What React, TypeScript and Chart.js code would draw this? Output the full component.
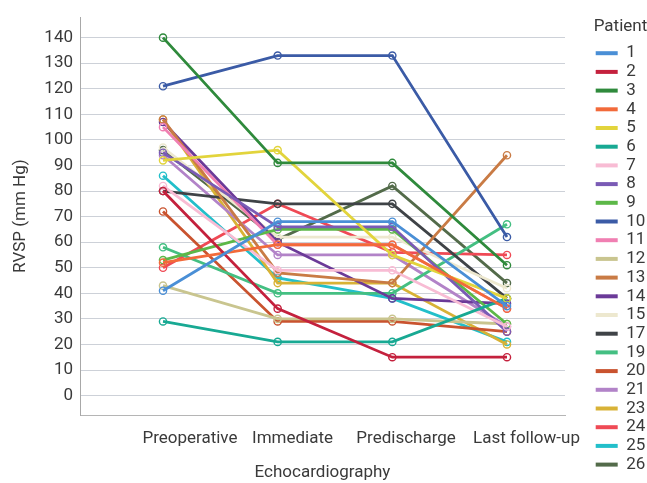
import { useEffect, useRef } from 'react';
import { Chart, registerables } from 'chart.js';

Chart.register(...registerables);

// ---- data ----
const categories = ['Preoperative', 'Immediate', 'Predischarge', 'Last follow-up'];
const yTicks = [0, 10, 20, 30, 40, 50, 60, 70, 80, 90, 100, 110, 120, 130, 140];

const patients = ['1', '2', '3', '4', '5', '6', '7', '8', '9', '10', '11', '12', '13', '14', '15', '17', '19', '20', '21', '23', '24', '25', '26'];

const p1 = [41, 68, 68, 35];
const p2 = [80, 34, 15, 15];
const p3 = [140, 91, 91, 51];
const p4 = [52, 59, 59, 34];
const p5 = [92, 96, 55, 38];
const p6 = [29, 21, 21, 38];
const p7 = [82, 49, 49, 27];
const p8 = [95, 66, 66, 25];
const p9 = [53, 65, 65, 28];
const p10 = [121, 133, 133, 62];
const p11 = [105, 59, 59, 34];
const p12 = [43, 30, 30, 28];
const p13 = [108, 48, 44, 94];
const p14 = [107, 60, 38, 36];
const p15 = [97, 62, 62, 42];
const p17 = [80, 75, 75, 38];
const p19 = [58, 40, 40, 67];
const p20 = [72, 29, 29, 25];
const p21 = [94, 55, 55, 27];
const p23 = [108, 44, 44, 20];
const p24 = [50, 75, 56, 55];
const p25 = [86, 46, 38, 21];
const p26 = [96, 61, 82, 44];

const series = [p1, p2, p3, p4, p5, p6, p7, p8, p9, p10, p11, p12, p13, p14, p15, p17, p19, p20, p21, p23, p24, p25, p26];

const colors = [
  '#4a8fd6', '#c4213d', '#2f8a3c', '#f26a3a', '#e2d43c', '#18a993', '#f8bcd4', '#7a5bb5',
  '#5cb848', '#3b5ba6', '#f07fb2', '#c9c58f', '#c97b45', '#6b3a98', '#ede8cf', '#3f4347',
  '#44bf82', '#c9532f', '#b283c8', '#d8b236', '#ef4a55', '#22bfca', '#536b4a',
];

const FONT = 'Roboto, "Liberation Sans", sans-serif';
const TEXT = '#3a3a3a';

export default function App() {
  const ref = useRef<HTMLCanvasElement | null>(null);

  useEffect(() => {
    if (!ref.current) return;
    const labelPos = [0.235, 1.13, 2.12, 3.17];
    const chart = new Chart(ref.current, {
      type: 'line',
      data: {
        datasets: series.map((vals, k) => ({
          label: patients[k],
          data: vals.map((v, i) => ({ x: i, y: v })),
          borderColor: colors[k],
          backgroundColor: colors[k],
          borderWidth: 2.8,
          tension: 0,
          pointRadius: 3.6,
          pointBorderWidth: 1.4,
          pointBackgroundColor: 'rgba(0,0,0,0)',
          pointBorderColor: colors[k],
        })),
      },
      options: {
        animation: false,
        responsive: true,
        maintainAspectRatio: false,
        layout: { padding: 0 },
        scales: {
          x: {
            type: 'linear',
            min: -0.724,
            max: 3.506,
            afterBuildTicks: (axis: any) => {
              axis.ticks = labelPos.map((v) => ({ value: v }));
            },
            afterFit: (s: any) => {
              s.height = 68;
            },
            ticks: {
              autoSkip: false,
              maxRotation: 0,
              padding: 14,
              color: TEXT,
              font: { family: FONT, size: 17 },
              callback: (_v: any, i: number) => categories[i],
            },
            grid: { display: false, drawTicks: false },
            border: { display: true, color: '#b5b5b5' },
            title: {
              display: true,
              text: 'Echocardiography',
              color: TEXT,
              font: { family: FONT, size: 17 },
              padding: { top: 0, bottom: 0 },
            },
          },
          y: {
            type: 'linear',
            min: -7.6,
            max: 148,
            afterBuildTicks: (axis: any) => {
              axis.ticks = yTicks.map((v) => ({ value: v }));
            },
            afterFit: (s: any) => {
              s.width = 80;
            },
            ticks: {
              padding: 7,
              color: TEXT,
              font: { family: FONT, size: 17 },
            },
            grid: { color: '#cdd1d8', lineWidth: 1, drawTicks: false },
            border: { display: true, color: '#a8a8a8' },
            title: {
              display: true,
              text: 'RVSP (mm Hg)',
              color: TEXT,
              font: { family: FONT, size: 17 },
              padding: { top: 11, bottom: 0 },
            },
          },
          gap: {
            type: 'linear',
            position: 'right',
            display: true,
            afterFit: (s: any) => {
              s.width = 29;
            },
            ticks: { display: false },
            grid: { display: false, drawTicks: false },
            border: { display: false },
          },
        },
        plugins: {
          tooltip: { enabled: false },
          legend: {
            display: true,
            position: 'right',
            align: 'start',
            maxWidth: 53,
            title: {
              display: true,
              text: 'Patient',
              color: TEXT,
              font: { family: FONT, size: 17 },
              padding: { top: 18.5, bottom: 4.1 },
            },
            labels: {
              boxWidth: 22,
              boxHeight: 4,
              padding: 1.7,
              color: TEXT,
              font: { family: FONT, size: 17 },
              generateLabels: (c: any) =>
                Chart.defaults.plugins.legend.labels.generateLabels(c).map((l: any) => ({
                  ...l,
                  lineWidth: 0,
                })),
            },
          },
        },
      } as any,
    });
    return () => chart.destroy();
  }, []);

  return (
    <div style={{ position: 'fixed', left: 0, top: 0, width: 647, height: 483, background: '#fff' }}>
      <canvas ref={ref} />
    </div>
  );
}
